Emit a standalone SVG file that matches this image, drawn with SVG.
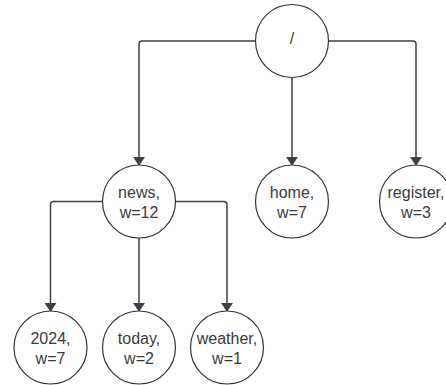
<svg xmlns="http://www.w3.org/2000/svg" width="446" height="385" viewBox="0 0 446 385">
<defs>
<marker id="arr" markerWidth="9" markerHeight="12" refX="9" refY="5" orient="auto" markerUnits="userSpaceOnUse" viewBox="0 0 10 10" preserveAspectRatio="none">
<path d="M0,0 L10,5 L0,10 Z" fill="#3a414a"/>
</marker>
<style>
.n{fill:#fff;stroke:#333;stroke-width:1.2}
.t{font-family:"Liberation Sans",Arial,sans-serif;font-size:16px;fill:#3a3a3a;text-anchor:middle}
.c{fill:none;stroke:#3a414a;stroke-width:1.5;marker-end:url(#arr)}
</style>
</defs>
<rect width="446" height="385" fill="#fff"/>
<g id="connectors">
<path class="c" d="M255.5,41 H142 Q139,41 139,44 V165"/>
<path class="c" d="M292,77.5 V165"/>
<path class="c" d="M328.5,41 H413 Q416,41 416,44 V165"/>
<path class="c" d="M102.5,201.5 H53.5 Q50.5,201.5 50.5,204.5 V311"/>
<path class="c" d="M139,238 V311"/>
<path class="c" d="M175.5,201.5 H224 Q227,201.5 227,204.5 V311"/>
</g>
<g id="root"><circle class="n" cx="292" cy="41" r="36.5"/><text class="t" x="292" y="44">/</text></g>
<g id="news"><circle class="n" cx="139" cy="201.5" r="36.5"/><text class="t" x="139" y="197.5">news,</text><text class="t" x="139" y="217.5">w=12</text></g>
<g id="home"><circle class="n" cx="292" cy="201.5" r="36.5"/><text class="t" x="292" y="197.5">home,</text><text class="t" x="292" y="217.5">w=7</text></g>
<g id="register"><circle class="n" cx="416" cy="201.5" r="36.5"/><text class="t" x="416" y="197.5">register,</text><text class="t" x="416" y="217.5">w=3</text></g>
<g id="n2024"><circle class="n" cx="50.5" cy="347.5" r="36.5"/><text class="t" x="50.5" y="343.5">2024,</text><text class="t" x="50.5" y="363.5">w=7</text></g>
<g id="today"><circle class="n" cx="139" cy="347.5" r="36.5"/><text class="t" x="139" y="343.5">today,</text><text class="t" x="139" y="363.5">w=2</text></g>
<g id="weather"><circle class="n" cx="227" cy="347.5" r="36.5"/><text class="t" x="227" y="343.5">weather,</text><text class="t" x="227" y="363.5">w=1</text></g>
</svg>
